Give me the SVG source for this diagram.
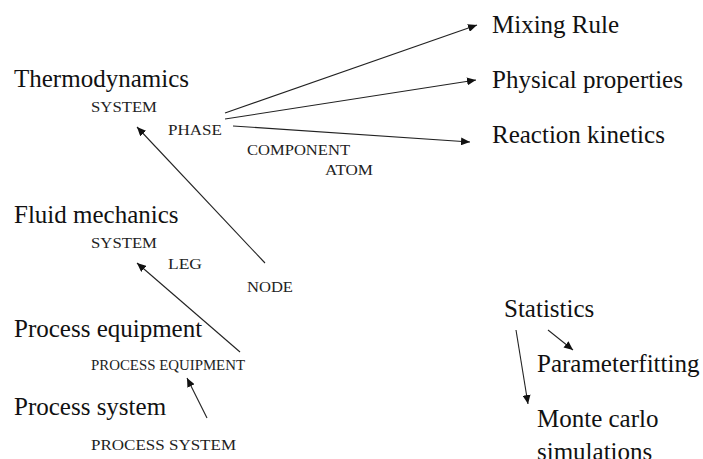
<svg xmlns="http://www.w3.org/2000/svg" width="703" height="459" viewBox="0 0 703 459">
<style>
text{font-family:'Liberation Serif','DejaVu Serif','Times New Roman',serif}
.big{font-size:25px;fill:#111}
.small{font-size:15px;fill:#222}
.ln{stroke:#222;stroke-width:1.1;fill:none}
.arr{marker-end:url(#ah)}
</style>
<defs>
<marker id="ah" markerUnits="userSpaceOnUse" markerWidth="10" markerHeight="8" refX="9" refY="4" orient="auto">
<path d="M0,0 L9,4 L0,8 Z" fill="#111"/>
</marker>
</defs>
<rect width="703" height="459" fill="#fff"/>
<g id="thermo">
<text class="big" x="14" y="87" font-family="Liberation Serif, serif">Thermodynamics</text>
<text class="small" x="91" y="112" textLength="66" lengthAdjust="spacingAndGlyphs">SYSTEM</text>
<text class="small" x="168" y="135" textLength="54" lengthAdjust="spacingAndGlyphs">PHASE</text>
<text class="small" x="247" y="155" textLength="103" lengthAdjust="spacingAndGlyphs">COMPONENT</text>
<text class="small" x="325" y="175" textLength="48" lengthAdjust="spacingAndGlyphs">ATOM</text>
</g>
<g id="fluid">
<text class="big" x="14" y="223">Fluid mechanics</text>
<text class="small" x="91" y="248" textLength="66" lengthAdjust="spacingAndGlyphs">SYSTEM</text>
<text class="small" x="168" y="269" textLength="34" lengthAdjust="spacingAndGlyphs">LEG</text>
<text class="small" x="247" y="292" textLength="46" lengthAdjust="spacingAndGlyphs">NODE</text>
</g>
<g id="equip">
<text class="big" x="14" y="337">Process equipment</text>
<text class="small" x="91" y="370" textLength="154" lengthAdjust="spacingAndGlyphs">PROCESS EQUIPMENT</text>
</g>
<g id="procsys">
<text class="big" x="14" y="415">Process system</text>
<text class="small" x="91" y="450" textLength="145" lengthAdjust="spacingAndGlyphs">PROCESS SYSTEM</text>
</g>
<g id="mixing"><text class="big" x="492" y="33">Mixing Rule</text></g>
<g id="physical"><text class="big" x="492" y="88">Physical properties</text></g>
<g id="reaction"><text class="big" x="492" y="143">Reaction kinetics</text></g>
<g id="statistics"><text class="big" x="504" y="317">Statistics</text></g>
<g id="paramfit"><text class="big" x="537" y="372">Parameterfitting</text></g>
<g id="montecarlo">
<text class="big" x="537" y="427">Monte carlo</text>
<text class="big" x="537" y="460">simulations</text>
</g>
<g id="connectors">
<line class="ln arr" x1="225" y1="113" x2="477" y2="25"/>
<line class="ln arr" x1="225" y1="119" x2="476" y2="80"/>
<line class="ln arr" x1="233" y1="126" x2="470" y2="142"/>
<line class="ln arr" x1="265" y1="263" x2="137" y2="127"/>
<line class="ln arr" x1="240" y1="352" x2="137" y2="263"/>
<line class="ln arr" x1="207" y1="418" x2="187" y2="378"/>
<line class="ln arr" x1="548" y1="330" x2="573" y2="350"/>
<line class="ln arr" x1="516" y1="330" x2="528" y2="404"/>
</g>
</svg>
